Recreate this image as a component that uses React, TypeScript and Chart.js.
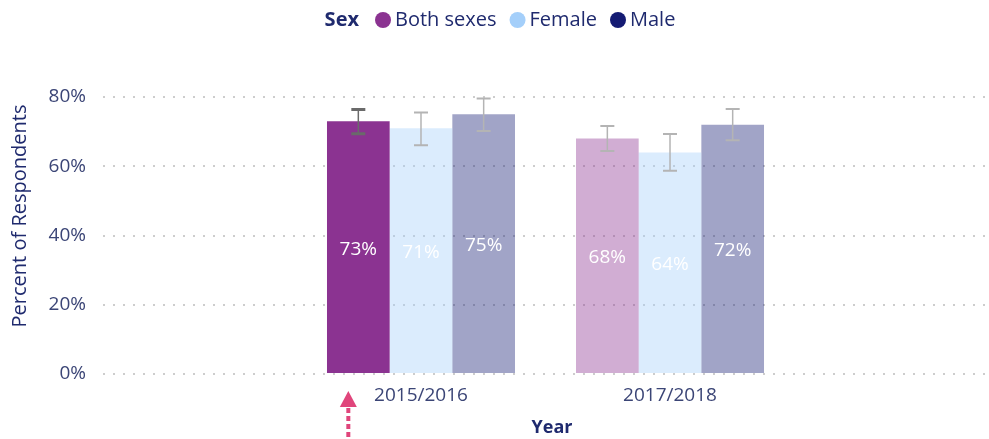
import React, { useEffect, useRef } from "react";
import { Chart, registerables } from "chart.js";

Chart.register(...registerables);

const YEARS = ["2015/2016", "2017/2018"];
const SERIES = ["Both sexes", "Female", "Male"];
const BOTH = [73, 68];
const FEMALE = [71, 64];
const MALE = [75, 72];
const BOTH_LO = [69.4, 64.4];
const BOTH_HI = [76.4, 71.6];
const FEMALE_LO = [66.1, 58.7];
const FEMALE_HI = [75.5, 69.3];
const MALE_LO = [70.2, 67.5];
const MALE_HI = [79.6, 76.5];
const Y_TICKS = [0, 20, 40, 60, 80];

const COLORS = ["rgb(139,51,145)", "rgb(164,207,250)", "rgb(20,27,115)"];
const FADED = ["rgba(139,51,145,0.4)", "rgba(164,207,250,0.4)", "rgba(20,27,115,0.4)"];
const FONT = "'Open Sans', 'Noto Sans', sans-serif";
const NAVY = "#1F2A6E";
const TICK = "#3B4576";

const LOWS = [BOTH_LO, FEMALE_LO, MALE_LO];
const HIGHS = [BOTH_HI, FEMALE_HI, MALE_HI];

const customPlugin = {
  id: "custom",
  afterDatasetsDraw(chart: any) {
    const ctx = chart.ctx;
    const y = chart.scales.y;
    // data labels
    chart.data.datasets.forEach((ds: any, i: number) => {
      const meta = chart.getDatasetMeta(i);
      meta.data.forEach((bar: any, j: number) => {
        ctx.save();
        ctx.fillStyle = "#ffffff";
        ctx.font = `19px ${FONT}`;
        ctx.textAlign = "center";
        ctx.textBaseline = "middle";
        ctx.fillText(ds.data[j].y + "%", bar.x, (bar.y + bar.base) / 2 + 2);
        ctx.restore();
      });
    });
    // error bars
    chart.data.datasets.forEach((ds: any, i: number) => {
      const meta = chart.getDatasetMeta(i);
      meta.data.forEach((bar: any, j: number) => {
        const sel = i === 0 && j === 0;
        const yHi = y.getPixelForValue(HIGHS[i][j]);
        const yLo = y.getPixelForValue(LOWS[i][j]);
        ctx.save();
        ctx.strokeStyle = sel ? "#6a6a6a" : "#b4b4b4";
        ctx.lineWidth = 1.5;
        ctx.beginPath();
        ctx.moveTo(bar.x, yHi);
        ctx.lineTo(bar.x, yLo);
        ctx.stroke();
        ctx.lineWidth = sel ? 3 : 2;
        ctx.beginPath();
        ctx.moveTo(bar.x - 7, yHi);
        ctx.lineTo(bar.x + 7, yHi);
        ctx.moveTo(bar.x - 7, yLo);
        ctx.lineTo(bar.x + 7, yLo);
        ctx.stroke();
        ctx.restore();
      });
    });
  },
  afterDraw(chart: any) {
    const ctx = chart.ctx;
    const area = chart.chartArea;
    // legend
    ctx.save();
    ctx.textBaseline = "middle";
    ctx.textAlign = "left";
    ctx.font = `bold 20px ${FONT}`;
    const titleW = ctx.measureText("Sex").width;
    ctx.font = `20px ${FONT}`;
    const r = 8;
    const gapTitle = 16;
    const gapItem = 13;
    let total = titleW + gapTitle;
    const widths = SERIES.map((s) => ctx.measureText(s).width);
    widths.forEach((w, k) => {
      total += r * 2 + 4 + w + (k < widths.length - 1 ? gapItem : 0);
    });
    let x = 500 - total / 2;
    const ly = 20;
    ctx.fillStyle = NAVY;
    ctx.font = `bold 20px ${FONT}`;
    ctx.fillText("Sex", x, ly);
    x += titleW + gapTitle;
    ctx.font = `20px ${FONT}`;
    SERIES.forEach((s, k) => {
      ctx.fillStyle = COLORS[k];
      ctx.beginPath();
      ctx.arc(x + r, ly, r, 0, Math.PI * 2);
      ctx.fill();
      x += r * 2 + 4;
      ctx.fillStyle = NAVY;
      ctx.fillText(s, x, ly);
      x += widths[k] + gapItem;
    });
    // axis titles
    ctx.fillStyle = NAVY;
    ctx.textAlign = "center";
    ctx.font = `bold 18px ${FONT}`;
    ctx.fillText("Year", (area.left + area.right) / 2 + 6, 428);
    ctx.save();
    ctx.translate(20, 216);
    ctx.rotate(-Math.PI / 2);
    ctx.font = `20px ${FONT}`;
    ctx.fillText("Percent of Respondents", 0, 0);
    ctx.restore();
    // pink dotted arrow under selected bar
    const bar = chart.getDatasetMeta(0).data[0];
    const ax = bar.x - 10;
    ctx.fillStyle = "#E0457B";
    ctx.strokeStyle = "#E0457B";
    ctx.beginPath();
    ctx.moveTo(ax, 391);
    ctx.lineTo(ax - 8.5, 407);
    ctx.lineTo(ax + 8.5, 407);
    ctx.closePath();
    ctx.fill();
    ctx.lineWidth = 4;
    ctx.setLineDash([5, 3]);
    ctx.beginPath();
    ctx.moveTo(ax, 408);
    ctx.lineTo(ax, 439);
    ctx.stroke();
    ctx.restore();
  },
};

export default function App() {
  const ref = useRef<HTMLCanvasElement | null>(null);
  useEffect(() => {
    document.body.style.margin = "0";
    const makeData = (vals: number[]) => vals.map((v, j) => ({ x: j, y: v }));
    const chart = new Chart(ref.current as HTMLCanvasElement, {
      type: "bar",
      data: {
        datasets: [
          {
            label: SERIES[0],
            data: makeData(BOTH),
            backgroundColor: [COLORS[0], FADED[0]],
          },
          {
            label: SERIES[1],
            data: makeData(FEMALE),
            backgroundColor: [FADED[1], FADED[1]],
          },
          {
            label: SERIES[2],
            data: makeData(MALE),
            backgroundColor: [FADED[2], FADED[2]],
          },
        ] as any,
      },
      options: {
        animation: false,
        responsive: false,
        maintainAspectRatio: false,
        layout: { padding: { top: 97, right: 0, left: 0, bottom: 0 } },
        datasets: { bar: { categoryPercentage: 0.755, barPercentage: 1 } } as any,
        plugins: {
          legend: { display: false },
          tooltip: { enabled: false },
        },
        scales: {
          x: {
            type: "linear",
            min: -1.277,
            max: 2.281,
            offset: false,
            grid: { display: false, offset: false, drawTicks: false },
            border: { display: false },
            afterBuildTicks: (scale: any) => {
              scale.ticks = YEARS.map((_, i) => ({ value: i }));
            },
            afterFit: (scale: any) => {
              scale.height = 65;
            },
            ticks: {
              autoSkip: false,
              maxRotation: 0,
              padding: 10,
              color: TICK,
              font: { family: FONT, size: 19 },
              callback: (v: any) => YEARS[v] ?? "",
            },
          } as any,
          y: {
            type: "linear",
            min: 0,
            max: 80,
            afterBuildTicks: (scale: any) => {
              scale.ticks = Y_TICKS.map((v) => ({ value: v }));
            },
            afterFit: (scale: any) => {
              scale.width = 103;
            },
            grid: { color: "#cdcdcd", lineWidth: 2, drawTicks: false },
            border: { display: false, dash: [2, 8] },
            ticks: {
              padding: 17,
              color: TICK,
              font: { family: FONT, size: 19 },
              callback: (v: any) => v + "%",
            },
          } as any,
        },
      },
      plugins: [customPlugin],
    });
    return () => chart.destroy();
  }, []);
  return (
    <div style={{ width: 989, height: 439, position: "relative" }}>
      <canvas ref={ref} width={989} height={439} style={{ display: "block" }} />
    </div>
  );
}
